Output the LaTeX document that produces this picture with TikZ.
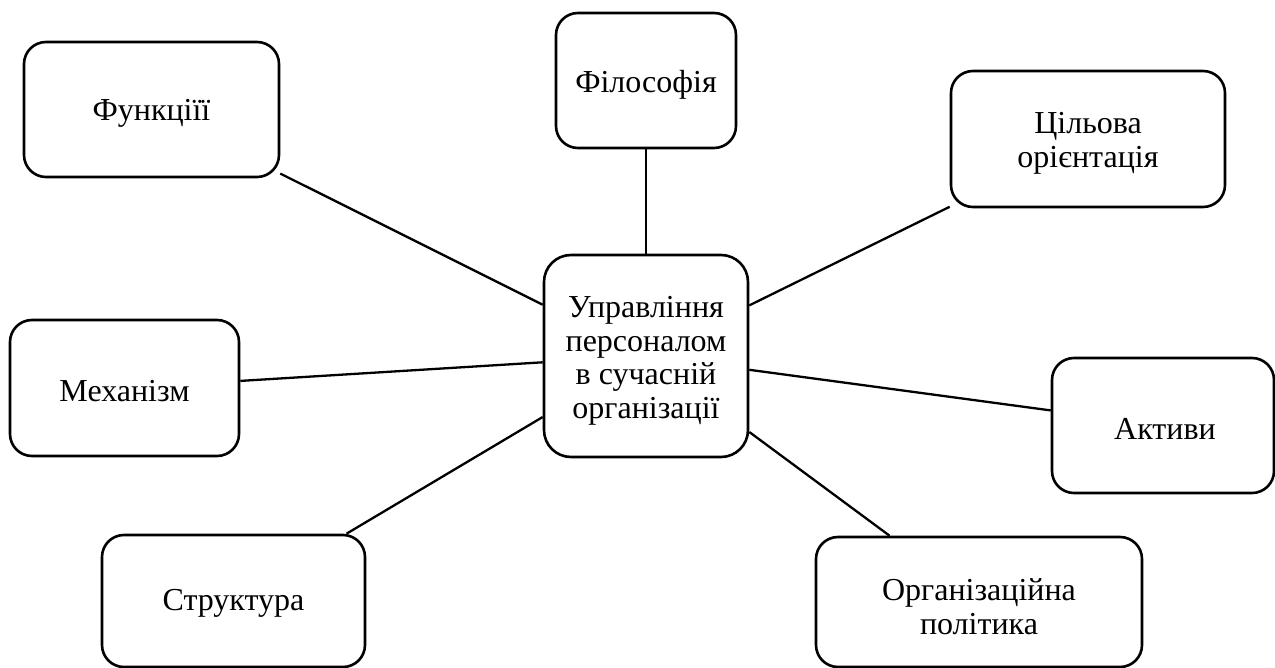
\documentclass[tikz,border=0pt]{standalone}
\usepackage{fontspec}
\setmainfont{Liberation Serif}
\begin{document}
\begin{tikzpicture}[x=1pt,y=-1pt,
  box/.style={draw, line width=2.6pt, rounded corners=22pt, inner sep=0pt},
  lbl/.style={align=center, inner sep=0pt, font=\fontsize{32}{34}\selectfont},
  link/.style={line width=2.3pt}]
\useasboundingbox (0,0) rectangle (1275,668);
\node[box, minimum width=255pt, minimum height=135pt] (fun) at (151.5,109.5) {};
\node[box, minimum width=180pt, minimum height=135pt] (phil) at (646,80.5) {};
\node[box, minimum width=274pt, minimum height=136pt] (goal) at (1088,139) {};
\node[box, rounded corners=27pt, minimum width=204pt, minimum height=202pt] (hub) at (646,356) {};
\node[box, minimum width=229pt, minimum height=136pt] (mech) at (124.5,388) {};
\node[box, minimum width=222pt, minimum height=135pt] (assets) at (1163,425.5) {};
\node[box, minimum width=263pt, minimum height=132pt] (struct) at (233.5,601) {};
\node[box, minimum width=326pt, minimum height=130pt] (org) at (979,602) {};
\node[lbl] (funt) at ([yshift=-4pt]fun.center) {Функціїї};
\node[lbl] (philt) at ([yshift=-4pt]phil.center) {Філософія};
\node[lbl] (goalt) at ([yshift=-4pt]goal.center) {Цільова\\орієнтація};
\node[lbl, font=\fontsize{32}{33.5}\selectfont] (hubt) at ([yshift=-5pt]hub.center)
  {Управління\\персоналом\\в сучасній\\організації};
\node[lbl] (mecht) at ([yshift=-3pt]mech.center) {Механізм};
\node[lbl] (assetst) at ([xshift=2pt,yshift=-3pt]assets.center) {Активи};
\node[lbl] (structt) at ([yshift=-2pt]struct.center) {Структура};
\node[lbl] (orgt) at ([yshift=-5pt]org.center) {Організаційна\\політика};
\draw[link] (fun) -- (hub);
\draw[link] (phil) -- (hub);
\draw[link] (goal) -- (hub);
\draw[link] (mech) -- (hub);
\draw[link] (assets) -- (hub);
\draw[link] (struct) -- (hub);
\draw[link] (org) -- (hub);
\end{tikzpicture}
\end{document}
